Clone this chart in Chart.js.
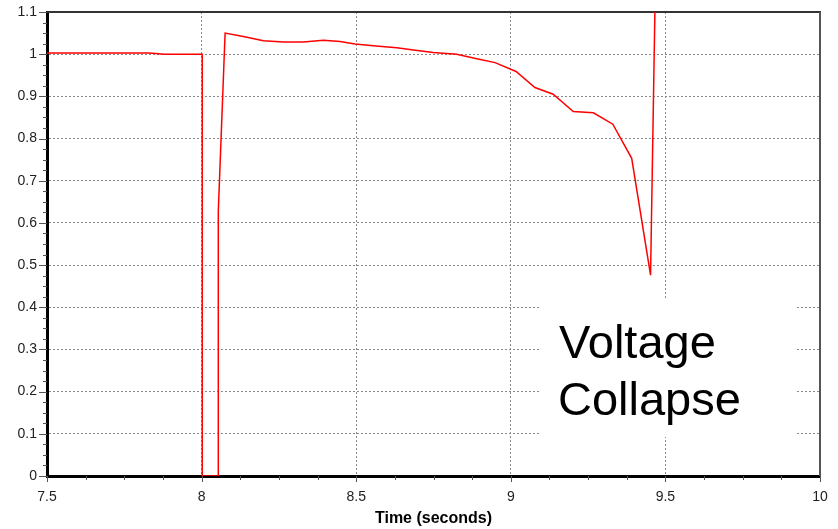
<!DOCTYPE html>
<html>
<head>
<meta charset="utf-8">
<script src="https://cdn.jsdelivr.net/npm/chart.js@4.4.1/dist/chart.umd.min.js"></script>
<style>
  html, body { margin: 0; padding: 0; background: #fff; }
  #wrap { width: 838px; height: 529px; position: relative; }
</style>
</head>
<body>
<div id="wrap"><canvas id="voltageChart"></canvas></div>
<script>
"use strict";

// Bus voltage (pu) against simulation time (s)
const timeSeconds = [
    7.5, 7.83, 7.88, 8.002, 8.002, 8.054, 8.054, 8.076, 8.135, 8.2,
    8.264, 8.329, 8.394, 8.448, 8.496, 8.555, 8.631, 8.685, 8.749, 8.825,
    8.89, 8.949, 9.017, 9.078, 9.137, 9.202, 9.267, 9.33, 9.391, 9.452,
    9.466
];
const voltagePu = [
    1.003, 1.003, 1.0, 1.0, 0, 0, 0.628, 1.05, 1.042, 1.032,
    1.029, 1.029, 1.033, 1.03, 1.024, 1.02, 1.015, 1.01, 1.004, 1.0,
    0.989, 0.98, 0.959, 0.921, 0.905, 0.864, 0.861, 0.834, 0.753, 0.476,
    1.1
];

// Axis ticks
const xTickValues = [7.5, 8, 8.5, 9, 9.5, 10];
const yTickValues = [0, 0.1, 0.2, 0.3, 0.4, 0.5, 0.6, 0.7, 0.8, 0.9, 1.0, 1.1];
const xMinorSteps = 4;
const yMinorSteps = 4;

const xTitle = 'Time (seconds)';
const noteLines = ['Voltage', 'Collapse'];

const fontFamily = '"Liberation Sans", Arial, Helvetica, sans-serif';

function tickLabel(value) {
    return String(Math.round(value * 10) / 10);
}

// top/right frame, minor tick marks and the text note
const framePlugin = {
    id: 'frame',
    beforeDatasetsDraw(chart) {
        const ctx = chart.ctx;
        const a = chart.chartArea;
        const xs = chart.scales.x;
        const ys = chart.scales.y;
        ctx.save();

        // white box behind the note
        ctx.fillStyle = '#ffffff';
        ctx.fillRect(540, 299, 255, 138);

        ctx.lineWidth = 2;
        ctx.strokeStyle = '#333333';
        ctx.beginPath();
        ctx.moveTo(a.left, a.top);
        ctx.lineTo(a.right + 1, a.top);
        ctx.stroke();
        ctx.strokeStyle = '#555555';
        ctx.beginPath();
        ctx.moveTo(a.right, a.top);
        ctx.lineTo(a.right, a.bottom);
        ctx.stroke();

        // tick marks
        ctx.lineWidth = 1;
        ctx.strokeStyle = '#555555';
        for (let i = 0; i < xTickValues.length; i++) {
            const v0 = xTickValues[i];
            const v1 = xTickValues[i + 1];
            for (let k = 0; k < xMinorSteps; k++) {
                if (k > 0 && v1 === undefined) break;
                const v = v1 === undefined ? v0 : v0 + (v1 - v0) * k / xMinorSteps;
                const px = Math.round(xs.getPixelForValue(v)) + 0.5;
                const len = k === 0 ? 6 : 4;
                ctx.beginPath();
                ctx.moveTo(px, a.bottom);
                ctx.lineTo(px, a.bottom + len);
                ctx.stroke();
            }
        }
        for (let i = 0; i < yTickValues.length; i++) {
            const v0 = yTickValues[i];
            const v1 = yTickValues[i + 1];
            for (let k = 0; k < yMinorSteps; k++) {
                if (k > 0 && v1 === undefined) break;
                const v = v1 === undefined ? v0 : v0 + (v1 - v0) * k / yMinorSteps;
                const py = Math.round(ys.getPixelForValue(v)) + 0.5;
                const len = k === 0 ? 8 : 4;
                ctx.beginPath();
                ctx.moveTo(a.left - len, py);
                ctx.lineTo(a.left, py);
                ctx.stroke();
            }
        }
        ctx.restore();
    },
    afterDraw(chart) {
        const ctx = chart.ctx;
        ctx.save();
        ctx.fillStyle = '#000000';
        ctx.font = '47px ' + fontFamily;
        ctx.textBaseline = 'alphabetic';
        ctx.textAlign = 'left';
        ctx.fillText(noteLines[0], 559, 358);
        ctx.fillText(noteLines[1], 558, 415);
        ctx.restore();
    }
};

document.addEventListener('DOMContentLoaded', function() {
    const points = timeSeconds.map((t, i) => ({ x: t, y: voltagePu[i] }));

    new Chart(document.getElementById('voltageChart'), {
        type: 'line',
        data: {
            datasets: [{
                label: 'Voltage',
                data: points,
                borderColor: '#ff0000',
                borderWidth: 1.5,
                pointRadius: 0,
                tension: 0,
                fill: false
            }]
        },
        options: {
            responsive: true,
            maintainAspectRatio: false,
            animation: false,
            layout: { padding: { top: 12, right: 18, left: 0, bottom: 0 } },
            plugins: {
                legend: { display: false },
                tooltip: { enabled: false }
            },
            scales: {
                x: {
                    type: 'linear',
                    min: 7.5,
                    max: 10,
                    afterBuildTicks: s => { s.ticks = xTickValues.map(v => ({ value: v })); },
                    afterFit: s => { s.height = 53; s.paddingLeft = 0; s.paddingRight = 0; },
                    ticks: {
                        autoSkip: false,
                        maxRotation: 0,
                        padding: 13,
                        color: '#222222',
                        font: { family: fontFamily, size: 14 },
                        callback: v => tickLabel(v)
                    },
                    grid: {
                        drawTicks: false,
                        color: '#8a8a8a',
                        lineWidth: 1
                    },
                    border: { display: true, color: '#000000', width: 3, dash: [2, 2] },
                    title: {
                        display: true,
                        text: xTitle,
                        color: '#000000',
                        font: { family: fontFamily, size: 16, weight: 'bold' },
                        padding: { top: 0, bottom: 1 }
                    }
                },
                y: {
                    type: 'linear',
                    min: 0,
                    max: 1.1,
                    afterBuildTicks: s => { s.ticks = yTickValues.map(v => ({ value: v })); },
                    afterFit: s => { s.width = 47; s.paddingTop = 0; s.paddingBottom = 0; },
                    ticks: {
                        padding: 10,
                        color: '#222222',
                        font: { family: fontFamily, size: 14 },
                        callback: v => tickLabel(v)
                    },
                    grid: {
                        drawTicks: false,
                        color: '#8a8a8a',
                        lineWidth: 1
                    },
                    border: { display: true, color: '#000000', width: 3, dash: [2, 2] }
                }
            }
        },
        plugins: [framePlugin]
    });
});
</script>
</body>
</html>
